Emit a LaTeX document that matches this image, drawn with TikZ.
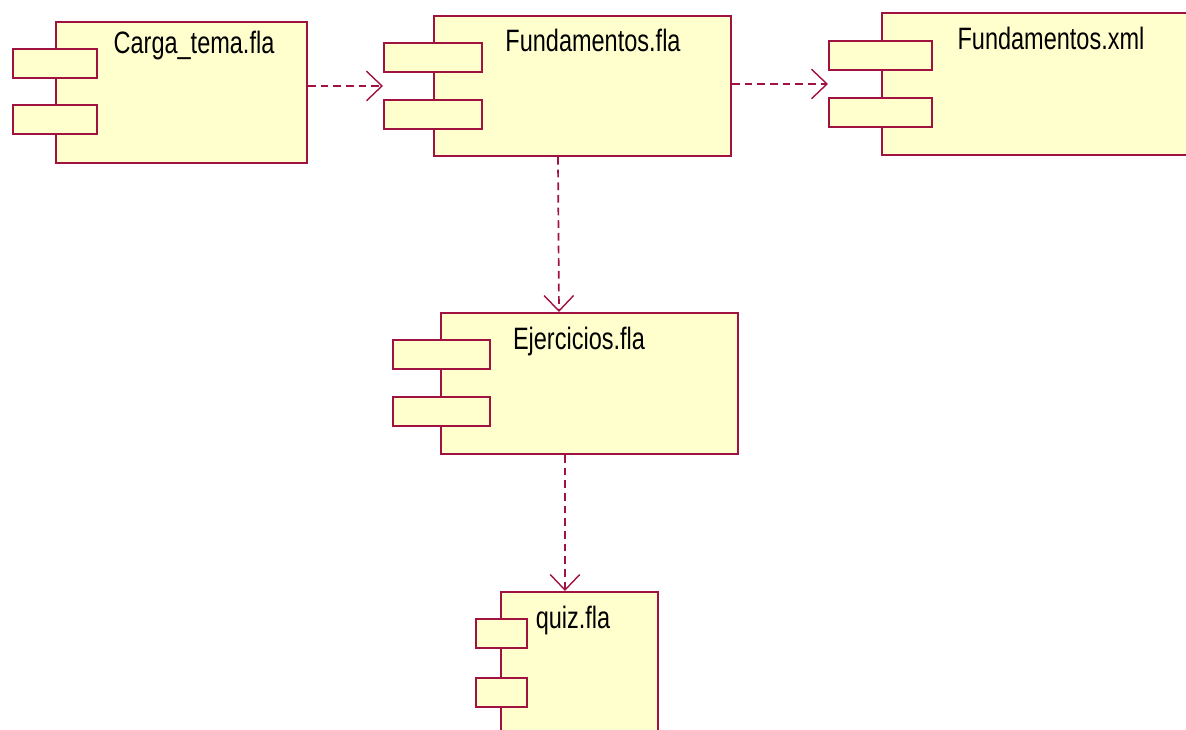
\documentclass[tikz,border=0pt]{standalone}
\usepackage{fontspec}
\setmainfont{Liberation Sans}[FakeStretch=0.76]
\usetikzlibrary{arrows.meta,positioning}
\definecolor{umlred}{RGB}{160,18,64}
\definecolor{umlfill}{RGB}{255,255,206}
\newcommand{\pxu}{0.025cm}
\tikzset{component/.style={draw=umlred,fill=umlfill,line width=1.4pt,inner sep=0pt,anchor=north west},
comptab/.style={component,minimum height=29*\pxu},
comptext/.style={anchor=base,inner sep=0pt,font=\fontsize{22}{26}\selectfont},
dep/.style={umlred,line width=1.2pt,dash pattern=on 5.5pt off 3.5pt,-{Straight Barb[length=11pt,width=21pt,line width=1pt]}}}

\begin{document}
\begin{tikzpicture}[x=\pxu,y=-\pxu]
\fill[white] (0,0) rectangle (1186,730);
\path[use as bounding box,clip] (0,0) rectangle (1186,730);
\node[component,minimum width=251*\pxu,minimum height=141*\pxu] (carga) at (55,21) {};
\node[comptab,minimum width=84*\pxu] (cargataba) at (12,48) {};
\node[comptab,minimum width=84*\pxu] (cargatabb) at (12,104) {};
\node[comptext] (cargalbl) at (194,54) {Carga\_tema.fla};
\node[component,minimum width=297*\pxu,minimum height=140*\pxu] (fundfla) at (433,15) {};
\node[comptab,minimum width=98*\pxu] (fundtaba) at (383,42) {};
\node[comptab,minimum width=98*\pxu] (fundtabb) at (383,99) {};
\node[comptext] (fundlbl) at (593,52) {Fundamentos.fla};
\node[component,minimum width=340*\pxu,minimum height=142*\pxu] (fundxml) at (881,12) {};
\node[comptab,minimum width=103*\pxu] (xmltaba) at (828,40) {};
\node[comptab,minimum width=103*\pxu] (xmltabb) at (828,97) {};
\node[comptext] (xmllbl) at (1051,50) {Fundamentos.xml};
\node[component,minimum width=297*\pxu,minimum height=141*\pxu] (ejer) at (440,312) {};
\node[comptab,minimum width=97*\pxu] (ejertaba) at (392,339) {};
\node[comptab,minimum width=97*\pxu] (ejertabb) at (392,396) {};
\node[comptext] (ejerlbl) at (579,349) {Ejercicios.fla};
\node[component,minimum width=157*\pxu,minimum height=160*\pxu] (quiz) at (500,591) {};
\node[comptab,minimum width=51*\pxu] (quiztaba) at (475,618) {};
\node[comptab,minimum width=51*\pxu] (quiztabb) at (475,677) {};
\node[comptext] (quizlbl) at (573,628) {quiz.fla};
\draw[dep] (carga.east |- fundfla.west) -- (fundtaba.west |- fundfla.west);
\draw[dep] (fundfla.east |- fundxml.west) -- (xmltaba.west |- fundxml.west);
\draw[dep] ([xshift=-24.5*\pxu]fundfla.south) -- ([xshift=-30.5*\pxu]ejer.north);
\draw[dep] ([xshift=-24.5*\pxu]ejer.south) -- ([xshift=-14.5*\pxu]quiz.north);
\end{tikzpicture}
\end{document}
